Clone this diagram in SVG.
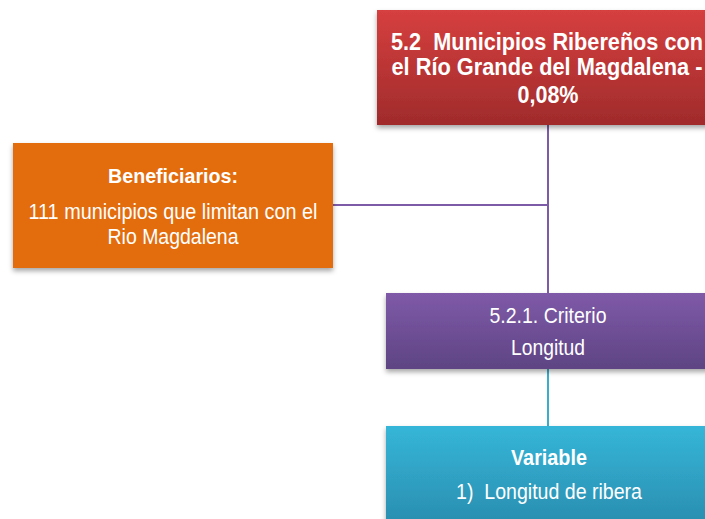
<svg xmlns="http://www.w3.org/2000/svg" width="705" height="519" viewBox="0 0 705 519">
<defs>
<linearGradient id="gRed" x1="0" y1="0" x2="0" y2="1"><stop offset="0" stop-color="#d63f3f"/><stop offset="1" stop-color="#a02b2b"/></linearGradient>
<linearGradient id="gPur" x1="0" y1="0" x2="0" y2="1"><stop offset="0" stop-color="#7f5aa8"/><stop offset="1" stop-color="#5e4483"/></linearGradient>
<linearGradient id="gBlue" x1="0" y1="0" x2="0" y2="1"><stop offset="0" stop-color="#35b6d8"/><stop offset="1" stop-color="#2a8daf"/></linearGradient>
<filter id="sh" x="-10%" y="-10%" width="120%" height="130%"><feDropShadow dx="0" dy="3" stdDeviation="2.5" flood-color="#000" flood-opacity="0.35"/></filter>
</defs>
<style>
text{font-family:"Liberation Sans",Arial,sans-serif;fill:#fff;text-anchor:middle;white-space:pre}
.b{font-weight:bold}
.con{stroke-width:2;fill:none}
</style>
<rect width="705" height="519" fill="#fff"/>
<g id="connectors">
<path class="con" stroke="#7d5ba6" d="M548 125V293M333 205H548"/>
<path class="con" stroke="#3aaccc" d="M548 369V426"/>
</g>
<g id="n1">
<rect x="377" y="10" width="345" height="115" fill="url(#gRed)" filter="url(#sh)"/>
<text class="b" font-size="24.5" x="547" y="50" textLength="312" lengthAdjust="spacingAndGlyphs">5.2  Municipios Ribereños con</text>
<text class="b" font-size="24.5" x="547" y="75" textLength="311" lengthAdjust="spacingAndGlyphs">el Río Grande del Magdalena -</text>
<text class="b" font-size="24.5" x="548" y="103" textLength="61" lengthAdjust="spacingAndGlyphs">0,08%</text>
</g>
<g id="n2">
<rect x="13" y="143" width="320" height="125" fill="#e36c0a" filter="url(#sh)"/>
<text class="b" font-size="21" x="173" y="183" textLength="130" lengthAdjust="spacingAndGlyphs">Beneficiarios:</text>
<text font-size="22.5" x="173" y="219" textLength="289" lengthAdjust="spacingAndGlyphs">111 municipios que limitan con el</text>
<text font-size="22.5" x="173" y="244" textLength="131" lengthAdjust="spacingAndGlyphs">Rio Magdalena</text>
</g>
<g id="n3">
<rect x="386" y="293" width="336" height="76" fill="url(#gPur)" filter="url(#sh)"/>
<text font-size="22.5" x="548" y="323" textLength="117" lengthAdjust="spacingAndGlyphs">5.2.1. Criterio</text>
<text font-size="22.5" x="548" y="355" textLength="74" lengthAdjust="spacingAndGlyphs">Longitud</text>
</g>
<g id="n4">
<rect x="386" y="426" width="336" height="100" fill="url(#gBlue)" filter="url(#sh)"/>
<text class="b" font-size="21.5" x="549" y="465" textLength="76" lengthAdjust="spacingAndGlyphs">Variable</text>
<text font-size="22.5" x="549" y="499" textLength="186" lengthAdjust="spacingAndGlyphs">1)  Longitud de ribera</text>
</g>
</svg>
